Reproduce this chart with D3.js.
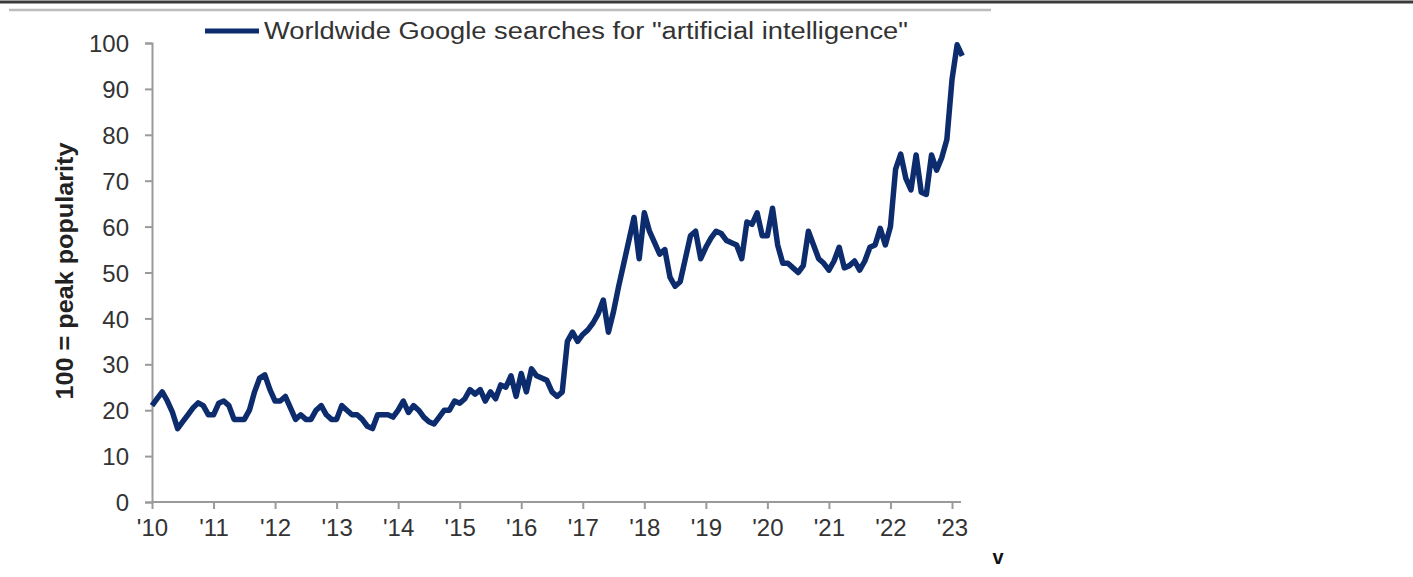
<!DOCTYPE html>
<html>
<head>
<meta charset="utf-8">
<script src="https://cdn.jsdelivr.net/npm/d3@7"></script>
<style>
  body { margin: 0; background: #fff; }
  svg { display: block; font-family: "Liberation Sans", Arial, sans-serif; }
</style>
</head>
<body>
<div id="chart"></div>
<script>
// monthly index, Jan 2010 = 0
const yearLabels = ["'10","'11","'12","'13","'14","'15","'16","'17","'18","'19","'20","'21","'22","'23"];
const yTicks = [0,10,20,30,40,50,60,70,80,90,100];
const searches = [
  // 2010
  21, 22.5, 24, 22, 19.5, 16, 17.5, 19, 20.5, 21.6, 21, 19,
  // 2011
  19, 21.5, 22, 21, 18, 18, 18, 20, 24, 27, 27.7, 24.5,
  // 2012
  22, 22, 23, 20.5, 18, 19, 18, 18, 20, 21, 19, 18,
  // 2013
  18, 21, 20, 19, 19, 18, 16.5, 16, 19, 19, 19, 18.5,
  // 2014
  20, 22, 19.5, 21, 20, 18.5, 17.5, 17, 18.5, 20, 20, 22,
  // 2015
  21.5, 22.5, 24.5, 23.5, 24.5, 22, 24, 22.5, 25.5, 25, 27.5, 23,
  // 2016
  28, 24, 29, 27.5, 27, 26.5, 24, 23, 24, 35, 37, 35,
  // 2017
  36.5, 37.5, 39, 41, 44, 37, 41.5, 47, 52, 57, 62, 53,
  // 2018
  63, 59, 56.5, 54, 55, 49, 47, 48, 53, 58, 59, 53,
  // 2019
  55.5, 57.5, 59, 58.5, 57, 56.5, 56, 53, 61, 60.5, 63, 58,
  // 2020
  58, 64, 56, 52, 52, 51, 50, 51.5, 59, 56, 53, 52,
  // 2021
  50.5, 52.5, 55.5, 51, 51.5, 52.5, 50.5, 52.5, 55.5, 56, 59.6, 56,
  // 2022
  60, 72.5, 75.8, 70.5, 68, 75.6, 67.5, 67, 75.6, 72.3, 75, 79,
  // 2023
  92, 99.6, 97.2
];

const W = 1413, H = 577;
const svg = d3.select('#chart').append('svg')
  .attr('width', W)
  .attr('height', H);

// header rules
svg.append('line')
  .attr('x1', 0).attr('x2', W).attr('y1', 2).attr('y2', 2)
  .attr('stroke', '#3a3a3a').attr('stroke-width', 3);
svg.append('line')
  .attr('x1', 9).attr('x2', 991).attr('y1', 10).attr('y2', 10)
  .attr('stroke', '#bdbdbd').attr('stroke-width', 2.5);

const x = d3.scaleLinear().domain([0, 156]).range([152, 952]);
const y = d3.scaleLinear().domain([0, 100]).range([502, 43]);

const axisColor = '#9a9a9a';

// y axis
const gy = svg.append('g')
  .attr('transform', 'translate(152,0)')
  .call(d3.axisLeft(y).tickValues(yTicks).tickSize(7).tickPadding(16));
// x axis
const gx = svg.append('g')
  .attr('transform', 'translate(0,502)')
  .call(d3.axisBottom(x)
    .tickValues(d3.range(0, 157, 12))
    .tickFormat((d, i) => yearLabels[i])
    .tickSize(7).tickSizeOuter(0).tickPadding(10));
gx.select('.domain').attr('d', 'M152,0H961');

[gx, gy].forEach(g => {
  g.selectAll('.domain, line').attr('stroke', axisColor).attr('stroke-width', 2);
  g.selectAll('text')
    .attr('fill', '#333')
    .style('font-size', '24px')
    .style('font-family', '"Liberation Sans", Arial, sans-serif');
});
gy.selectAll('text').attr('dy', '0.36em');

// y label
svg.append('text')
  .attr('transform', 'translate(73,271) rotate(-90)')
  .attr('text-anchor', 'middle')
  .style('font-size', '24px')
  .style('font-weight', 'bold')
  .attr('fill', '#222')
  .attr('textLength', 257)
  .attr('lengthAdjust', 'spacingAndGlyphs')
  .text('100 = peak popularity');

// line
const line = d3.line()
  .x((d, i) => x(i))
  .y(d => y(d));

svg.append('path')
  .datum(searches)
  .attr('d', line)
  .attr('fill', 'none')
  .attr('stroke', '#0c2c6e')
  .attr('stroke-width', 5.5)
  .attr('stroke-linejoin', 'round');

// legend
svg.append('line')
  .attr('x1', 205).attr('x2', 259).attr('y1', 31).attr('y2', 31)
  .attr('stroke', '#0c2c6e').attr('stroke-width', 5);
svg.append('text')
  .attr('x', 264).attr('y', 39)
  .style('font-size', '23px')
  .attr('fill', '#333')
  .attr('textLength', 644)
  .attr('lengthAdjust', 'spacingAndGlyphs')
  .text('Worldwide Google searches for "artificial intelligence"');

// stray mark
svg.append('text')
  .attr('x', 998).attr('y', 564)
  .attr('text-anchor', 'middle')
  .style('font-size', '20px')
  .style('font-weight', 'bold')
  .attr('fill', '#111')
  .text('v');
</script>
</body>
</html>
